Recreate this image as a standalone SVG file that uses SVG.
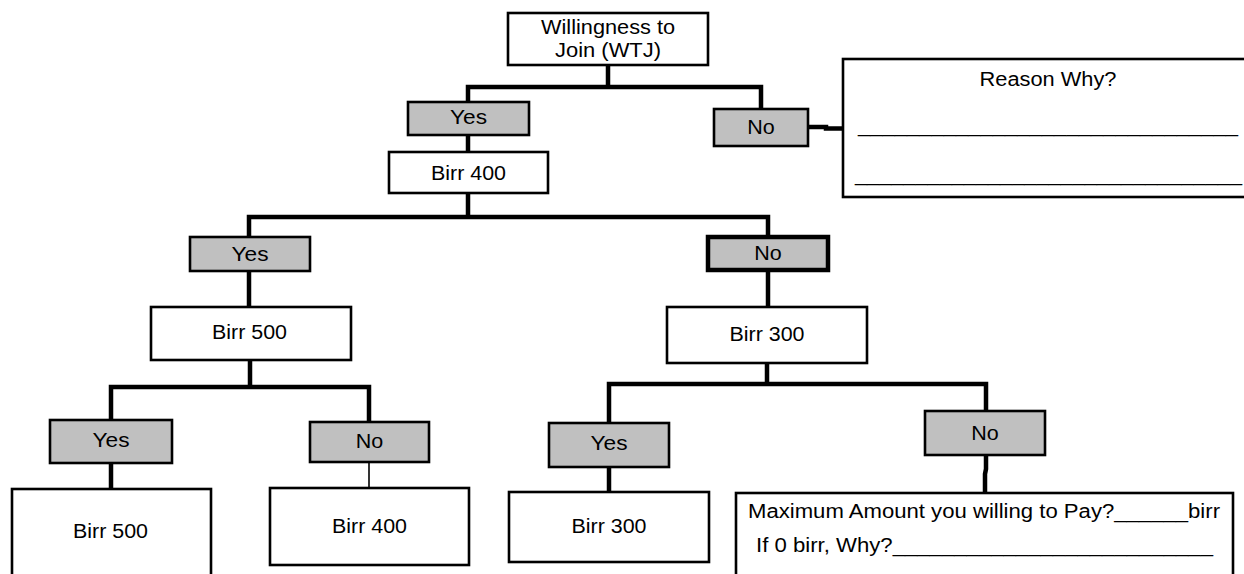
<svg xmlns="http://www.w3.org/2000/svg" width="1244" height="574" viewBox="0 0 1244 574">
  <style>
    .box { fill: #ffffff; stroke: #000000; stroke-width: 2.6; }
    .ans { fill: #c0c0c0; stroke: #000000; stroke-width: 2.6; }
    .ans-bold { fill: #c0c0c0; stroke: #000000; stroke-width: 4.5; }
    .conn { fill: none; stroke: #000000; stroke-width: 4.5; stroke-linejoin: miter; }
    .thin { fill: none; stroke: #000000; stroke-width: 1.6; }
    text { font-family: "Liberation Sans", Arial, sans-serif; font-size: 19.5px; fill: #000000; }
    .c { text-anchor: middle; }
  </style>
  <rect width="1244" height="574" fill="#ffffff"/>

  <g id="connectors">
    <path class="conn" d="M608,65 V87 M468,102 V87 H761 V109"/>
    <path class="conn" d="M808,127 H826 V128.5 H843"/>
    <path class="conn" d="M468,135 V152"/>
    <path class="conn" d="M468,193 V217 M249,237 V217 H768 V237"/>
    <path class="conn" d="M249,271 V307"/>
    <path class="conn" d="M768,270 V307"/>
    <path class="conn" d="M250,360 V387 M111,420 V387 H369 V422"/>
    <path class="conn" d="M111,463 V489"/>
    <path class="thin" d="M369,462 V488"/>
    <path class="conn" d="M767,363 V384 M609,423 V384 H986 V411"/>
    <path class="conn" d="M609,467 V492"/>
    <path class="conn" d="M986,455 V469 L985,474 V493"/>
  </g>

  <g id="wtj">
    <rect class="box" x="508" y="13" width="200" height="52"/>
    <text class="c" x="608" y="34" textLength="134" lengthAdjust="spacingAndGlyphs">Willingness to</text>
    <text class="c" x="608" y="57" textLength="106" lengthAdjust="spacingAndGlyphs">Join (WTJ)</text>
  </g>

  <g id="yes1">
    <rect class="ans" x="408" y="102" width="121" height="33"/>
    <text class="c" x="468.5" y="124" textLength="37" lengthAdjust="spacingAndGlyphs">Yes</text>
  </g>

  <g id="no1">
    <rect class="ans" x="714" y="109" width="94" height="37"/>
    <text class="c" x="761" y="134" textLength="27.5" lengthAdjust="spacingAndGlyphs">No</text>
  </g>

  <g id="reason">
    <rect class="box" x="843" y="59" width="420" height="138" stroke-width="3"/>
    <text class="c" x="1048" y="86" textLength="137" lengthAdjust="spacingAndGlyphs">Reason Why?</text>
    <text x="858" y="132" textLength="380" lengthAdjust="spacingAndGlyphs">_______________________________</text>
    <text x="855" y="181" textLength="387" lengthAdjust="spacingAndGlyphs">________________________________</text>
  </g>

  <g id="birr400a">
    <rect class="box" x="389" y="152" width="159" height="41"/>
    <text class="c" x="468.5" y="180" textLength="75" lengthAdjust="spacingAndGlyphs">Birr 400</text>
  </g>

  <g id="yes2">
    <rect class="ans" x="190" y="237" width="120" height="34"/>
    <text class="c" x="250" y="261" textLength="37" lengthAdjust="spacingAndGlyphs">Yes</text>
  </g>

  <g id="no2">
    <rect class="ans-bold" x="708" y="237" width="120" height="33"/>
    <text class="c" x="768" y="260" textLength="27.5" lengthAdjust="spacingAndGlyphs">No</text>
  </g>

  <g id="birr500a">
    <rect class="box" x="151" y="307" width="200" height="53"/>
    <text class="c" x="249.5" y="339" textLength="75" lengthAdjust="spacingAndGlyphs">Birr 500</text>
  </g>

  <g id="birr300a">
    <rect class="box" x="667" y="307" width="200" height="56"/>
    <text class="c" x="767" y="341" textLength="75" lengthAdjust="spacingAndGlyphs">Birr 300</text>
  </g>

  <g id="yes3">
    <rect class="ans" x="50" y="420" width="122" height="43"/>
    <text class="c" x="111" y="447" textLength="37" lengthAdjust="spacingAndGlyphs">Yes</text>
  </g>

  <g id="no3">
    <rect class="ans" x="310" y="422" width="119" height="40"/>
    <text class="c" x="369.5" y="448" textLength="27.5" lengthAdjust="spacingAndGlyphs">No</text>
  </g>

  <g id="yes4">
    <rect class="ans" x="549" y="423" width="120" height="44"/>
    <text class="c" x="609" y="450" textLength="37" lengthAdjust="spacingAndGlyphs">Yes</text>
  </g>

  <g id="no4">
    <rect class="ans" x="925" y="411" width="120" height="44"/>
    <text class="c" x="985" y="440" textLength="27.5" lengthAdjust="spacingAndGlyphs">No</text>
  </g>

  <g id="birr500b">
    <rect class="box" x="12" y="489" width="199" height="100"/>
    <text class="c" x="110.5" y="538" textLength="75" lengthAdjust="spacingAndGlyphs">Birr 500</text>
  </g>

  <g id="birr400b">
    <rect class="box" x="270" y="488" width="199" height="77"/>
    <text class="c" x="369.5" y="533" textLength="75" lengthAdjust="spacingAndGlyphs">Birr 400</text>
  </g>

  <g id="birr300b">
    <rect class="box" x="509" y="492" width="200" height="70"/>
    <text class="c" x="609" y="533" textLength="75" lengthAdjust="spacingAndGlyphs">Birr 300</text>
  </g>

  <g id="maxpay">
    <rect class="box" x="736" y="493" width="497" height="100"/>
    <text x="748" y="518" textLength="472" lengthAdjust="spacingAndGlyphs">Maximum Amount you willing to Pay?______birr</text>
    <text x="756" y="552" textLength="457" lengthAdjust="spacingAndGlyphs">If 0 birr, Why?__________________________</text>
  </g>
</svg>
